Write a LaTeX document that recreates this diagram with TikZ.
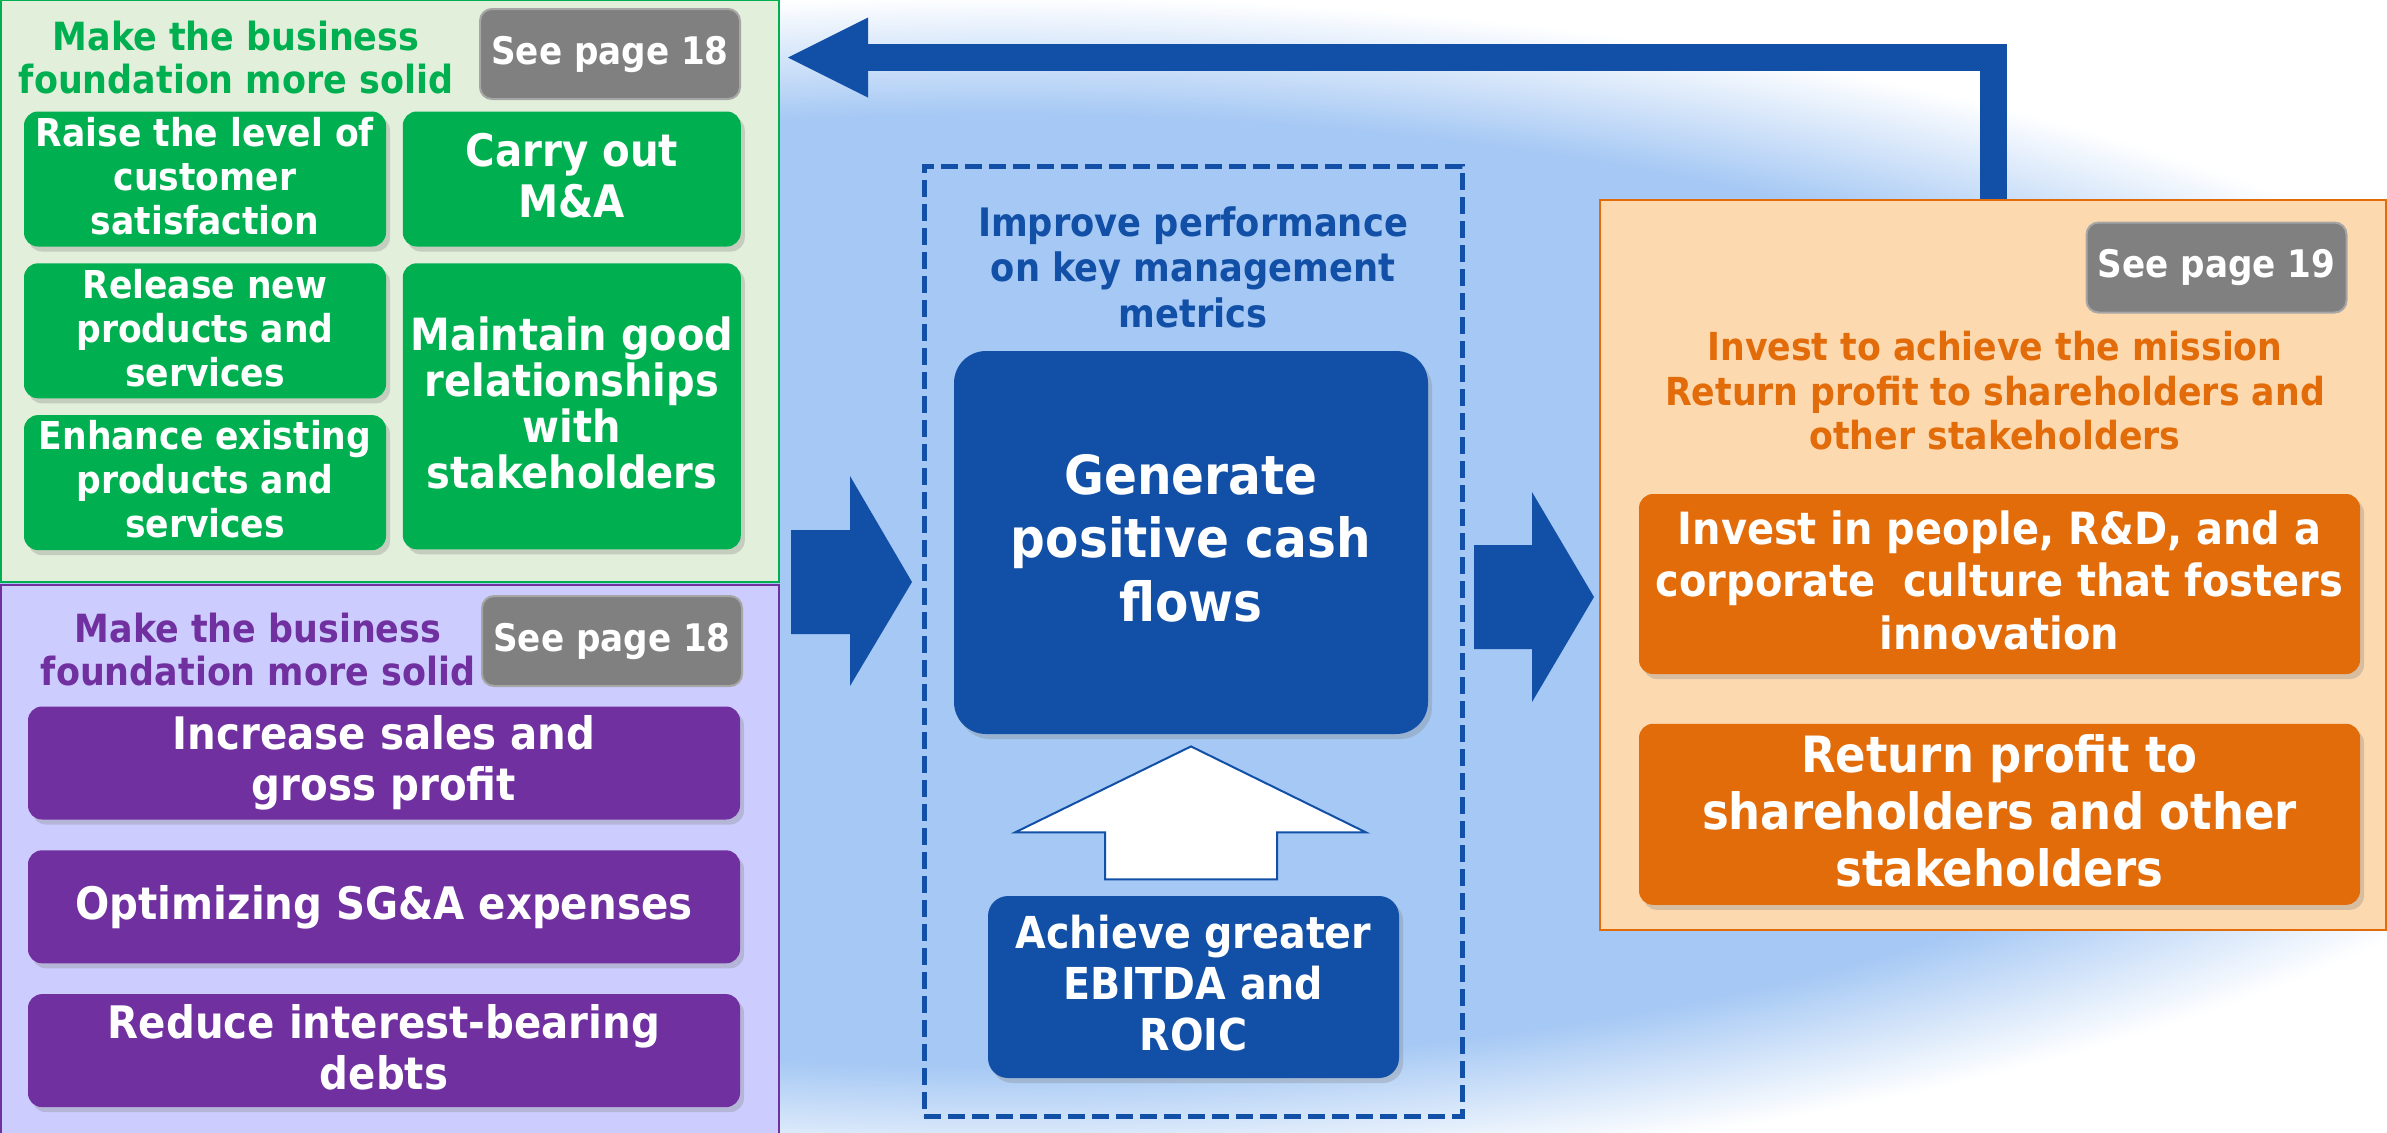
\documentclass[tikz,border=0pt]{standalone}
\usepackage{fontspec}
\setmainfont{DejaVu Sans Condensed}
\usepackage{tikz}
\usetikzlibrary{arrows.meta, calc, positioning, shadows}

\definecolor{grnline}{HTML}{00B050}
\definecolor{grnfill}{HTML}{E2EFDA}
\definecolor{purline}{HTML}{7030A0}
\definecolor{purfill}{HTML}{CCCCFF}
\definecolor{navy}{HTML}{1150A6}
\definecolor{orline}{HTML}{E26B0A}
\definecolor{orfill}{HTML}{FDD9AF}
\definecolor{tagfill}{HTML}{808080}
\definecolor{tagline}{HTML}{A6A6A6}
\definecolor{blobblue}{HTML}{A5C8F4}

% soft light-blue cloud behind everything (path edge sits at 25bp)
\pgfdeclareradialshading{blob}{\pgfpoint{0bp}{0bp}}{color(0bp)=(blobblue); color(20bp)=(blobblue); color(25bp)=(white); color(50bp)=(white)}

\newcommand{\boxfont}[2]{\bfseries\fontsize{#1}{#2}\selectfont}
% a little depth under the last line so the text sits a bit higher
\newcommand{\cardstrut}{\rule[-0.15\baselineskip]{0pt}{0.15\baselineskip}}

\begin{document}
\begin{tikzpicture}[x=0.5pt, y=-0.5pt,
  panel/.style={rectangle, line width=1pt, inner sep=0pt},
  heading/.style={align=center, inner sep=0pt},
  card/.style={rounded corners=7pt, text=white, align=center, inner sep=0pt,
    execute at end node=\cardstrut,
    drop shadow={shadow xshift=2pt, shadow yshift=-2.5pt, opacity=0.3}},
  pagetag/.style={fill=tagfill, draw=tagline, line width=1pt, rounded corners=6pt,
    text=white, font=\boxfont{19}{22}, minimum width=130pt, minimum height=45pt, inner sep=0pt}]

\path[use as bounding box] (0,0) rectangle (2387,1132);
\fill[white] (0,0) rectangle (2387,1132);
\clip (0,0) rectangle (2387,1132);
\shade[shading=blob] (1000,590) ellipse [x radius=859pt, y radius=297pt];

% left: foundation panels
\node[panel, draw=grnline, fill=grnfill, minimum width=389pt, minimum height=291pt] (grnpanel) at (390,291) {};
\node[panel, draw=purline, fill=purfill, minimum width=389pt, minimum height=275pt] (purpanel) at (390,860) {};

\node[heading, text=grnline, font=\boxfont{19.4}{21.5}] (grntitle) at (236,58) {Make the business\\foundation more solid};
\node[pagetag] (grnpage) at (610,54) {See page 18};
\node[card, fill=grnline, minimum width=181pt, minimum height=67.5pt, font=\boxfont{19.2}{22}] (raise) at (205,179) {Raise the level of\\customer\\satisfaction};
\node[card, fill=grnline, minimum width=181pt, minimum height=67.5pt, font=\boxfont{19.2}{22}, below=8pt of raise] (release) {Release new\\products and\\services};
\node[card, fill=grnline, minimum width=181pt, minimum height=67.5pt, font=\boxfont{19.2}{22}, below=8pt of release] (enhance) {Enhance existing\\products and\\services};
\node[card, fill=grnline, minimum width=169pt, minimum height=67.5pt, font=\boxfont{22.4}{25.5}, right=8pt of raise] (carry) {Carry out\\M\&A};
\node[card, fill=grnline, minimum width=169pt, minimum height=143pt, font=\boxfont{22.2}{23}, below=8pt of carry] (relations) {Maintain good\\relationships\\with\\stakeholders};

\node[heading, text=purline, font=\boxfont{19.4}{21.5}] (purtitle) at (258,650) {Make the business\\foundation more solid};
\node[pagetag] (purpage) at (612,641) {See page 18};
\node[card, fill=purline, minimum width=356pt, minimum height=56.5pt, font=\boxfont{22.4}{25.5}] (sales) at (384,763) {Increase sales and\\gross profit};
\node[card, fill=purline, minimum width=356pt, minimum height=56.5pt, font=\boxfont{22.4}{25.5}, below=15pt of sales] (sga) {Optimizing SG\&A expenses};
\node[card, fill=purline, minimum width=356pt, minimum height=56.5pt, font=\boxfont{22.4}{25.5}, below=15pt of sga] (debts) {Reduce interest-bearing\\debts};

% middle: key metrics
\node[panel, draw=navy, line width=2.5pt, dash pattern=on 8.5pt off 3.5pt, minimum width=269pt, minimum height=475pt] (kpiframe) at (1193,641) {};
\node[heading, text=navy, font=\boxfont{19.6}{22.75}] (kpititle) at (1193,267) {Improve performance\\on key management\\metrics};
\node[card, fill=navy, rounded corners=16pt, minimum width=237pt, minimum height=191.5pt, font=\boxfont{27}{31.75}] (cash) at (1191,542.5) {Generate\\positive cash\\flows};
\node[card, fill=navy, rounded corners=10pt, minimum width=205.5pt, minimum height=91pt, font=\boxfont{22}{25.5}] (ebitda) at (1193.5,987) {Achieve greater\\EBITDA and\\ROIC};
\draw[navy, line width=1pt, fill=white] ([yshift=-6pt]cash.south) -- ++(175,86) -- ++(-89,0) -- ++(0,47) -- ++(-172,0) -- ++(0,-47) -- ++(-90,0) -- cycle;

% right: use of cash
\node[panel, draw=orline, fill=orfill, minimum width=393pt, minimum height=365pt] (orpanel) at (1993,565) {};
\node[pagetag] (orpage) at (2216.5,267.5) {See page 19};
\node[heading, text=orline, font=\boxfont{19.3}{22.25}] (ortitle) at (1995,391) {Invest to achieve the mission\\Return profit to shareholders and\\other stakeholders};
\node[card, fill=orline, minimum width=360.5pt, minimum height=90pt, font=\boxfont{22.2}{26.25}] (invest) at (1999.5,584) {Invest in people, R\&D, and a\\corporate\ \ culture that fosters\\innovation};
\node[card, fill=orline, minimum width=360.5pt, minimum height=90.5pt, font=\boxfont{25}{28.5}, below=24.5pt of invest] (payout) {Return profit to\\shareholders and other\\stakeholders};

% block arrows and the loop back
\coordinate (intail) at (791,582);
\coordinate (outtail) at (1474,597);
\coordinate (rettip) at (788,57.5);
\fill[navy] (intail) -- ++(0,-52) -- ++(59,0) -- ++(0,-54) -- ++(62,106) -- ++(-62,104) -- ++(0,-52) -- ++(-59,0) -- cycle;
\fill[navy] (outtail) -- ++(0,-52) -- ++(58,0) -- ++(0,-53) -- ++(62,105) -- ++(-62,105) -- ++(0,-53) -- ++(-58,0) -- cycle;
\draw[navy, line width=13.5pt, -{Triangle[length=40pt, width=40pt, line width=0pt]}] (orpanel.north) |- (rettip);
\end{tikzpicture}
\end{document}
